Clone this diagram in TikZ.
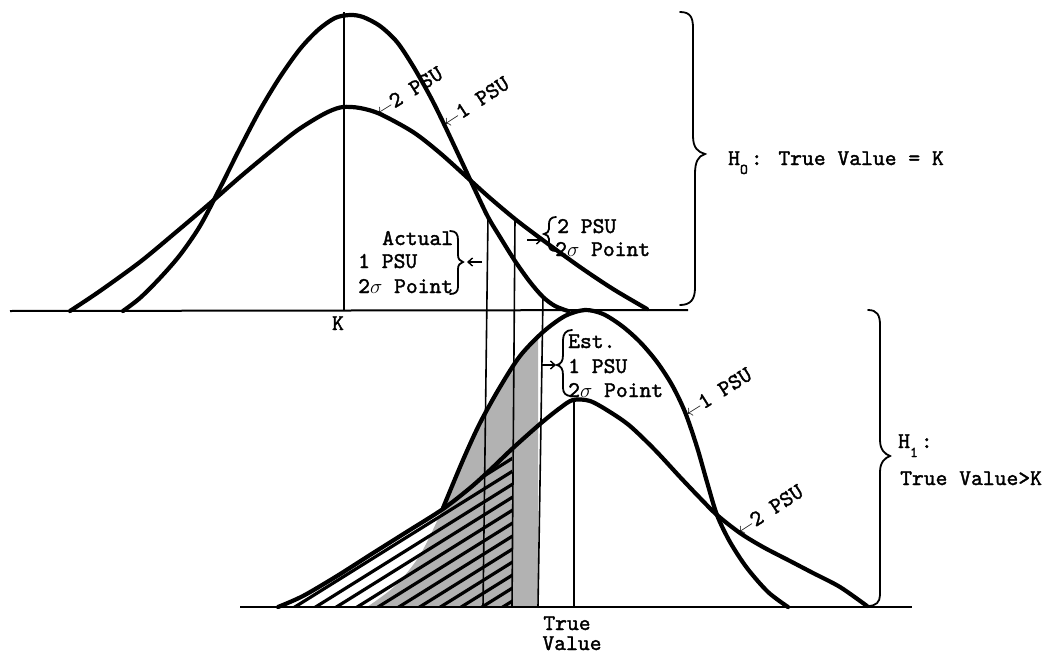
\documentclass[tikz,border=0pt]{standalone}
\usepackage{fontspec}
\newfontfamily\tyfont{lmmono10-regular.otf}[FakeBold=1.6]
\usetikzlibrary{arrows.meta}
\newcommand\psuarrow{{\fontsize{17}{17}\selectfont$\leftarrow$}}
\def\pathAone{plot[smooth] coordinates {(123,311) (140,298) (160,278) (180,255) (200,226) (220,188) (240,148) (260,110) (280,77) (300,49) (318,30) (335,18) (350,15) (363,17) (380,26) (397,42) (413,66) (430,96) (443,122) (460,158) (475,190) (488,217) (500,237) (515,261) (530,282) (543,297) (555,306) (568,311)}}
\def\pathAtwo{plot[smooth] coordinates {(70,311) (100,291) (140,262) (175,233) (208,205) (240,177) (270,152) (295,132) (315,119) (330,111) (343,107) (360,108) (380,114) (413,132) (440,153) (470,180) (490,198) (515,219) (540,238) (580,267) (613,289) (647,309)}}
\def\pathBfull{plot[smooth] coordinates {(367,607) (395,586) (420,555) (443,508) (463,460) (480,423) (500,387) (520,356) (543,332) (565,316) (585,310) (603,314) (622,326) (640,342) (657,362) (672,385) (685,412) (697,447) (707,482) (717,515) (730,542) (747,568) (768,592) (788,607)}}
\def\pathBone{plot[smooth] coordinates {(443,508) (463,460) (480,423) (500,387) (520,356) (543,332) (565,316) (585,310) (603,314) (622,326) (640,342) (657,362) (672,385) (685,412) (697,447) (707,482) (717,515) (730,542) (747,568) (768,592) (788,607)}}
\def\pathBtwo{plot[smooth] coordinates {(278,607) (303,596) (337,576) (370,555) (405,533) (443,509) (470,488) (490,470) (513,448) (540,424) (560,408) (573,400) (590,401) (610,412) (630,426) (655,450) (680,477) (700,498) (717,515) (740,533) (763,547) (790,561) (813,573) (840,587) (867,606)}}
\begin{document}
\begin{tikzpicture}[x=1pt,y=-1pt,
  curve/.style={line width=4.2pt, line cap=round, line join=round},
  axisline/.style={line width=2pt},
  vline/.style={line width=1.6pt},
  bracepath/.style={line width=1.8pt, line cap=round},
  hatchline/.style={line width=3.2pt},
  stip/.style={fill=black!30},
  lbl/.style={font=\fontsize{22.5}{24}\selectfont\tyfont, inner sep=0pt},
  sarrow/.style={line width=1.4pt, -{Straight Barb[length=4.5pt,width=8pt]}},
]
\useasboundingbox (0,0) rectangle (1050,653);
\fill[white] (0,0) rectangle (1050,653);

% stippled area under the H1 1 PSU curve
\begin{scope}
  \clip (0,0) rectangle (538,653);
  \fill[stip] \pathBfull -- cycle;
\end{scope}
% hatched area under the H1 2 PSU curve
\begin{scope}
  \clip (0,0) rectangle (512,653);
  \clip \pathBtwo -- cycle;
  \foreach \i in {0,...,17} \draw[hatchline] ({170+20.8*\i},620) -- ++(420,-262);
\end{scope}

% coordinates
\coordinate (kt) at (344,12);  \coordinate (kb) at (344,311);
\coordinate (v1t) at (488,217); \coordinate (v1b) at (483,607);
\coordinate (v2t) at (515,219); \coordinate (v2b) at (512,607);
\coordinate (v3t) at (543,297); \coordinate (v3b) at (538,607);
\coordinate (tvt) at (574,400); \coordinate (tvb) at (574,607);
\coordinate (ax0a) at (10,311); \coordinate (ax0b) at (688,310);
\coordinate (ax1a) at (240,607); \coordinate (ax1b) at (912,607);

% vertical lines and axes
\draw[vline] (kt) -- (kb);
\draw[vline] (v1t) -- (v1b);
\draw[vline] (v2t) -- (v2b);
\draw[vline] (v3t) -- (v3b);
\draw[vline] (tvt) -- (tvb);
\draw[axisline] (ax0a) -- (ax0b);
\draw[axisline] (ax1a) -- (ax1b);

% curves
\draw[curve] \pathAone;
\draw[curve] \pathAtwo;
\draw[curve] \pathBone;
\draw[curve] \pathBtwo;

% big braces
\draw[bracepath] (680,12) .. controls (690,12) and (693,17) .. (693,28) -- (693,136) .. controls (693,148) and (698,152) .. (705,154) .. controls (698,156) and (695,162) .. (695,174) -- (695,288) .. controls (695,300) and (690,305) .. (680,305);
\draw[bracepath] (868,310) .. controls (877,310) and (880,315) .. (880,325) -- (880,440) .. controls (880,450) and (885,454) .. (890,456) .. controls (885,458) and (880,462) .. (880,472) -- (880,595) .. controls (880,602) and (876,606) .. (868,606);
% small braces
\draw[bracepath] (450,231) .. controls (456,231) and (458,234) .. (458,240) -- (458,255) .. controls (458,259) and (460,261) .. (463,262) .. controls (460,263) and (458,265) .. (458,269) -- (458,287) .. controls (458,292) and (455,294) .. (450,294);
\draw[bracepath] (556,217) .. controls (551,217) and (549,220) .. (549,224) -- (549,229) .. controls (549,232) and (547,233) .. (544,234) .. controls (547,235) and (549,236) .. (549,239) -- (549,245) .. controls (549,249) and (551,251) .. (556,251);
\draw[bracepath] (572,330) .. controls (566,330) and (563,334) .. (563,340) -- (563,355) .. controls (563,361) and (561,364) .. (557,365) .. controls (561,366) and (563,369) .. (563,375) -- (563,388) .. controls (563,393) and (566,396) .. (571,396);

% small arrows
\coordinate (aa1) at (482,262); \coordinate (aa2) at (467,262);
\coordinate (pa1) at (527,240); \coordinate (pa2) at (542,240);
\coordinate (ea1) at (542,365); \coordinate (ea2) at (556,365);
\draw[sarrow] (aa1) -- (aa2);
\draw[sarrow] (pa1) -- (pa2);
\draw[sarrow] (ea1) -- (ea2);

% labels
\node[lbl, anchor=base] (klbl) at (338,330) {K};
\node[lbl, anchor=base west] (h0) at (728,165) {H\raisebox{-9pt}{\fontsize{15}{15}\selectfont O}\hspace{3pt}: True Value = K};
\node[lbl, anchor=base west] (h1a) at (898,448) {H\raisebox{-9pt}{\fontsize{15}{15}\selectfont 1}\hspace{3pt}:};
\node[lbl, anchor=base west] (h1b) at (900,485) {True Value>K};
\node[lbl, anchor=base west] (act1) at (382,245) {Actual};
\node[lbl, anchor=base west] (act2) at (358,268) {1 PSU};
\node[lbl, anchor=base west] (act3) at (358,293) {2$\sigma$ Point};
\node[lbl, anchor=base west] (p2a) at (557,233) {2 PSU};
\node[lbl, anchor=base west] (p2b) at (555,256) {2$\sigma$ Point};
\node[lbl, anchor=base west] (e1) at (568,348) {Est.};
\node[lbl, anchor=base west] (e2) at (568,373) {1 PSU};
\node[lbl, anchor=base west] (e3) at (568,397) {2$\sigma$ Point};
\node[lbl, anchor=base] (tv1) at (567,630) {True};
\node[lbl, anchor=base] (tv2) at (572,650) {Value};
\node[lbl, rotate=32, anchor=west] (r1) at (376,112) {\psuarrow2 PSU};
\node[lbl, rotate=33, anchor=west] (r2) at (443,123) {\psuarrow1 PSU};
\node[lbl, rotate=32, anchor=west] (r3) at (685,413) {\psuarrow1 PSU};
\node[lbl, rotate=33, anchor=west] (r4) at (737,531) {\psuarrow2 PSU};
\end{tikzpicture}
\end{document}
